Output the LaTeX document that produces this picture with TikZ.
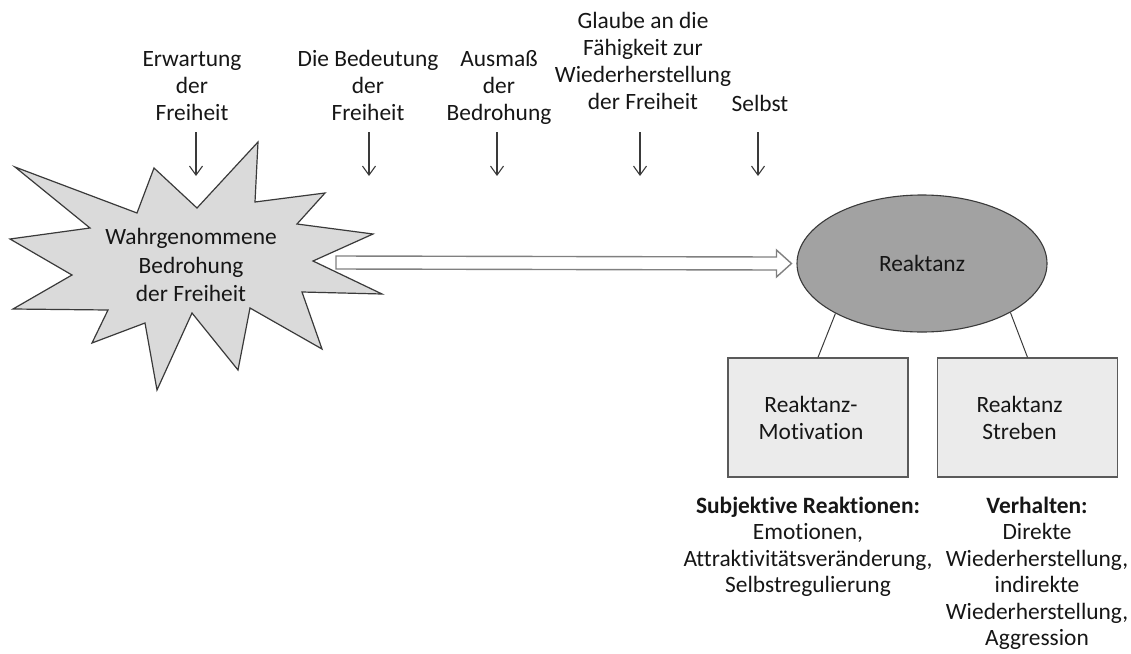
\documentclass[tikz,border=0pt]{standalone}
\usepackage{fontspec}
\setmainfont{Carlito}[Ligatures=NoCommon]
\usetikzlibrary{arrows.meta,shapes.geometric,calc}
\definecolor{txt}{HTML}{161616}
\definecolor{ln}{HTML}{3A3A3A}
\definecolor{burstfill}{HTML}{DADADA}
\definecolor{ellfill}{HTML}{A2A2A2}
\definecolor{boxfill}{HTML}{EBEBEB}
\definecolor{boxline}{HTML}{5A5A5A}
\definecolor{arrline}{HTML}{808080}
\begin{document}
\begin{tikzpicture}[x=1pt,y=-1pt,
  lbl/.style={text=txt,align=center,inner sep=0pt,anchor=north,
    font=\fontsize{23.4}{27}\selectfont},
  lblb/.style={lbl,font=\fontsize{23.4}{26.5}\selectfont},
  lblc/.style={lbl,font=\fontsize{23.4}{28.5}\selectfont},
  smallarrow/.style={draw=ln,line width=1.1pt,-{Straight Barb[length=9pt,width=13pt,line width=1.1pt]}},
  burst/.style={draw=ln,line width=1.2pt,fill=burstfill,line join=miter},
  reakt/.style={ellipse,draw=ln,line width=1.1pt,fill=ellfill,minimum width=250pt,minimum height=137pt,inner sep=0pt,text=txt,font=\fontsize{23.4}{27}\selectfont},
  rbox/.style={rectangle,draw=boxline,line width=1.3pt,fill=boxfill,minimum width=180pt,minimum height=119pt,inner sep=0pt,align=center,text=txt,font=\fontsize{23.4}{27}\selectfont},
  blockarrow/.style={draw=arrline,line width=1.4pt,fill=white,line join=miter},
  link/.style={draw=ln,line width=1pt}
]
\useasboundingbox (0,0) rectangle (1131,653);

% starburst
\path[burst] (15,167) -- (137,213) -- (154,168) -- (197,208) -- (258,142) -- (255,202)
  -- (325,193) -- (297,224) -- (373,234) -- (313,261) -- (382,294) -- (302,292)
  -- (322,349) -- (250,308) -- (238,370) -- (192,313) -- (157,390) -- (145,323)
  -- (92,343) -- (108,310) -- (13,309) -- (72,275) -- (10,239) -- (90,228) -- cycle;
\node[lblc] (threat) at (191,224.5) {\strut Wahrgenommene\\Bedrohung\\der Freiheit};

% top labels
\node[lbl] (erw) at (192,47.6) {\strut Erwartung\\der\\Freiheit};
\node[lbl] (bed) at (368,47.6) {\strut Die Bedeutung\\der\\Freiheit};
\node[lbl] (aus) at (499,47.6) {\strut Ausmaß\\der\\Bedrohung};
\node[lbl] (gla) at (643,9.6) {\strut Glaube an die\\Fähigkeit zur\\Wiederherstellung\\der Freiheit};
\node[lbl] (sel) at (760,92.6) {\strut Selbst};

\foreach \n/\x in {1/196,2/369,3/497,4/640,5/758}{
  \coordinate (s\n) at (\x,132);
  \coordinate (e\n) at (\x,176);
  \draw[smallarrow] (s\n) -- (e\n);
}

% ellipse
\node[reakt] (ell) at (922,263.5) {\raisebox{-2pt}{Reaktanz}};

% block arrow
\coordinate (arrS) at (336,262.5);
\coordinate (arrE) at ($(ell.west)+(-5,0)$);
\path[blockarrow] ($(arrS)+(0,-6.5)$) -- ($(arrE)+(-15,-6.5)$) -- ($(arrE)+(-15,-13.5)$)
  -- (arrE) -- ($(arrE)+(-15,13.5)$) -- ($(arrE)+(-15,6.5)$) -- ($(arrS)+(0,6.5)$) -- cycle;

% boxes
\node[rbox] (mot) at (818,417.5) {Reaktanz-\hspace*{14pt}\\Motivation\hspace*{14pt}};
\node[rbox] (str) at (1027.5,417.5) {Reaktanz\hspace*{16pt}\\Streben\hspace*{16pt}};
\draw[link] (ell.210.5) -- (mot.north);
\draw[link] (ell.331) -- (str.north);

% bottom texts
\node[lblb] (subj) at (808,494.5) {\strut\textbf{Subjektive Reaktionen:}\\Emotionen,\\Attraktivitätsveränderung,\\Selbstregulierung};
\node[lblb] (verh) at (1037,494.5) {\strut\textbf{Verhalten:}\\Direkte\\Wiederherstellung,\\indirekte\\Wiederherstellung,\\Aggression};
\end{tikzpicture}
\end{document}
